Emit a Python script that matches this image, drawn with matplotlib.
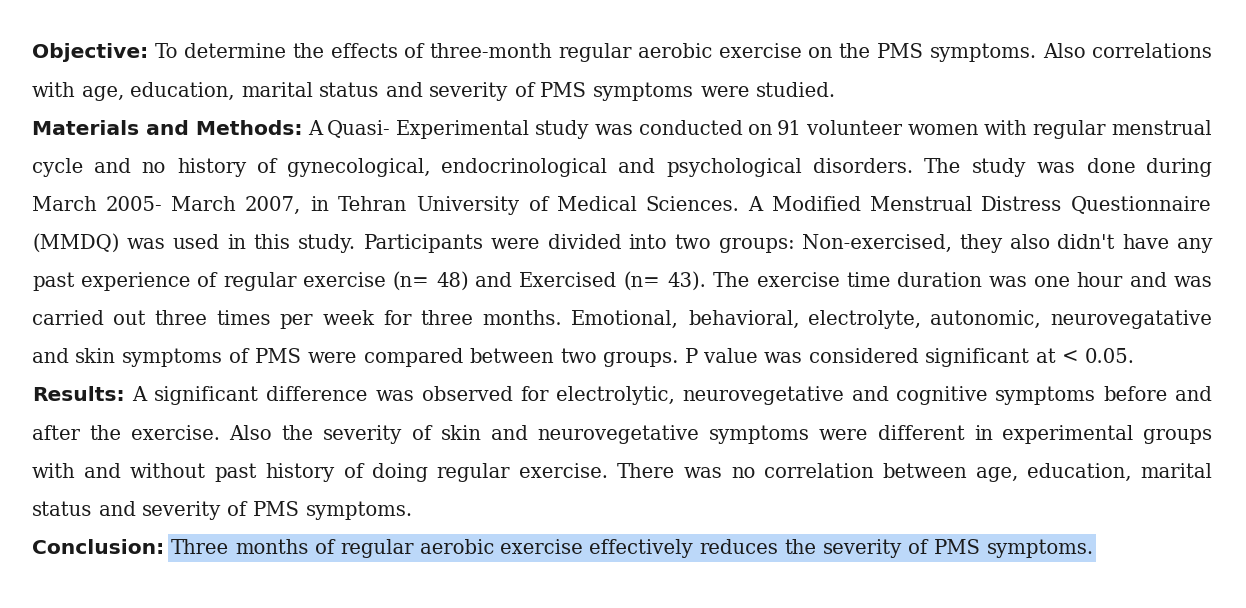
import matplotlib
matplotlib.use("Agg")
import matplotlib.pyplot as plt

# (bold label, body text, justify?)
lines = [
    ("Objective:", "To determine the effects of three-month regular aerobic exercise on the PMS symptoms. Also correlations", True),
    ("", "with age, education, marital status and severity of PMS symptoms were studied.", False),
    ("Materials and Methods:", "A Quasi- Experimental study was conducted on 91 volunteer women with regular menstrual", True),
    ("", "cycle and no history of gynecological, endocrinological and psychological disorders. The study was done during", True),
    ("", "March 2005- March 2007, in Tehran University of Medical Sciences. A Modified Menstrual Distress Questionnaire", True),
    ("", "(MMDQ) was used in this study. Participants were divided into two groups: Non-exercised, they also didn't have any", True),
    ("", "past experience of regular exercise (n= 48) and Exercised (n= 43). The exercise time duration was one hour and was", True),
    ("", "carried out three times per week for three months.  Emotional, behavioral, electrolyte, autonomic, neurovegatative", True),
    ("", "and skin symptoms of PMS were compared between two groups. P value was considered significant at < 0.05.", False),
    ("Results:", "A significant difference was observed for electrolytic, neurovegetative and cognitive symptoms before and", True),
    ("", "after the exercise. Also the severity of skin and neurovegetative symptoms were different in experimental groups", True),
    ("", "with and without past history of doing regular exercise. There was no correlation between age, education, marital", True),
    ("", "status and severity of PMS symptoms.", False),
    ("Conclusion:", "Three months of regular aerobic exercise effectively reduces the severity of PMS symptoms.", False),
]
highlight_line = 13

LEFT, RIGHT = 32, 1212
TOP, STEP = 53, 38.1
BODY = dict(family="DejaVu Serif", fontsize=14.1, color="#1a1a1a")
LABEL = dict(family="DejaVu Sans", fontsize=14.6, fontweight="bold", color="#1a1a1a")

fig = plt.figure(figsize=(12.46, 6.08), dpi=100)
ax = fig.add_axes([0, 0, 1, 1])
ax.set_xlim(0, 1246)
ax.set_ylim(608, 0)
ax.axis("off")
renderer = fig.canvas.get_renderer()


def width(s, style):
    t = ax.text(0, 0, s, **style)
    w = t.get_window_extent(renderer).width
    t.remove()
    return w


space = width("a a", BODY) - width("aa", BODY)

for i, (label, body, justify) in enumerate(lines):
    y = TOP + i * STEP
    words = [(label, LABEL)] if label else []
    words += [(w, BODY) for w in body.split()]
    widths = [width(w, st) for w, st in words]
    gap = space
    if justify and len(words) > 1:
        gap = (RIGHT - LEFT - sum(widths)) / (len(words) - 1)
    x = LEFT
    if i == highlight_line:
        start = LEFT + widths[0] + gap - 3
        end = LEFT + sum(widths) + gap * (len(words) - 1) + 2
        ax.add_patch(plt.Rectangle((start, y - 14), end - start, 28,
                                   color="#bcd8f9", zorder=0, lw=0))
    for (w, st), wd in zip(words, widths):
        ax.text(x, y, w, va="center", ha="left", **st)
        x += wd + gap

fig.savefig("out.png", dpi=100)
